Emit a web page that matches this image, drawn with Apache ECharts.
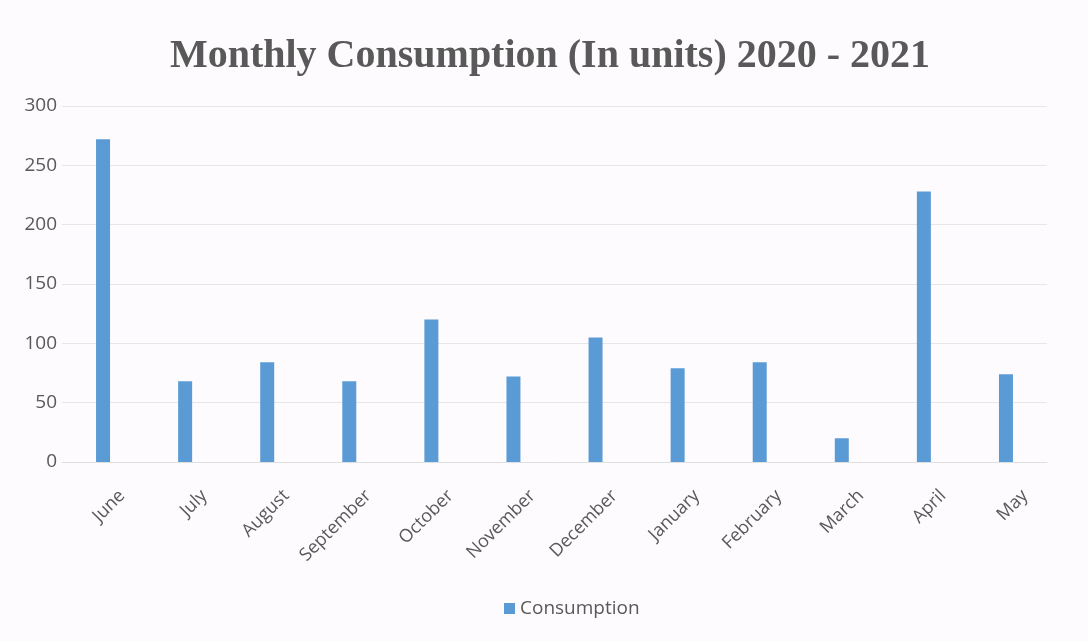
<!DOCTYPE html>
<html>
<head>
<meta charset="utf-8">
<script src="https://cdn.jsdelivr.net/npm/echarts@6/dist/echarts.min.js"></script>
<style>
html,body{margin:0;padding:0;background:#fdfbfd;}
#c{width:1088px;height:641px;}
</style>
</head>
<body>
<div id="c"></div>
<script>
const titleText = 'Monthly Consumption (In units) 2020 - 2021';
const seriesName = 'Consumption';
const months = ['June','July','August','September','October','November','December','January','February','March','April','May'];
const consumption = [272, 68, 84, 68, 120, 72, 105, 79, 84, 20, 228, 74];
const yTicks = [0, 50, 100, 150, 200, 250, 300];

const chart = echarts.init(document.getElementById('c'));
chart.setOption({
  backgroundColor: '#fdfbfd',
  animation: false,
  title: {
    text: titleText,
    left: 545, textAlign: 'center', top: 32,
    textStyle: { fontFamily: 'Liberation Serif', fontWeight: 'bold', fontSize: 40, color: '#595959' }
  },
  legend: {
    bottom: 18, left: 499,
    icon: 'rect', itemWidth: 11, itemHeight: 11, itemGap: 7,
    textStyle: { fontFamily: 'Open Sans', fontSize: 19, color: '#595959' },
    data: [seriesName]
  },
  grid: { left: 62, right: 41, top: 106, bottom: 179 },
  xAxis: {
    type: 'category',
    data: months,
    axisLine: { show: true, lineStyle: { color: '#e0e0e0' } },
    axisTick: { show: false },
    axisLabel: {
      rotate: 45, margin: 50, interval: 0,
      fontFamily: 'Open Sans', fontSize: 18, color: '#595959',
      formatter: v => '{a|' + v + '}',
      rich: { a: { fontFamily: 'Open Sans', fontSize: 18, color: '#595959', padding: [0, -27, 0, 0] } }
    }
  },
  yAxis: {
    type: 'value', min: yTicks[0], max: yTicks[yTicks.length - 1], interval: 50,
    axisLine: { show: false }, axisTick: { show: false },
    splitLine: { lineStyle: { color: '#e6e6e6' } },
    axisLabel: { margin: 5, fontFamily: 'Open Sans', fontSize: 19, color: '#595959' }
  },
  series: [{
    name: seriesName, type: 'bar', data: consumption,
    barWidth: 14,
    itemStyle: { color: '#5b9bd5' }
  }]
});
</script>
</body>
</html>
